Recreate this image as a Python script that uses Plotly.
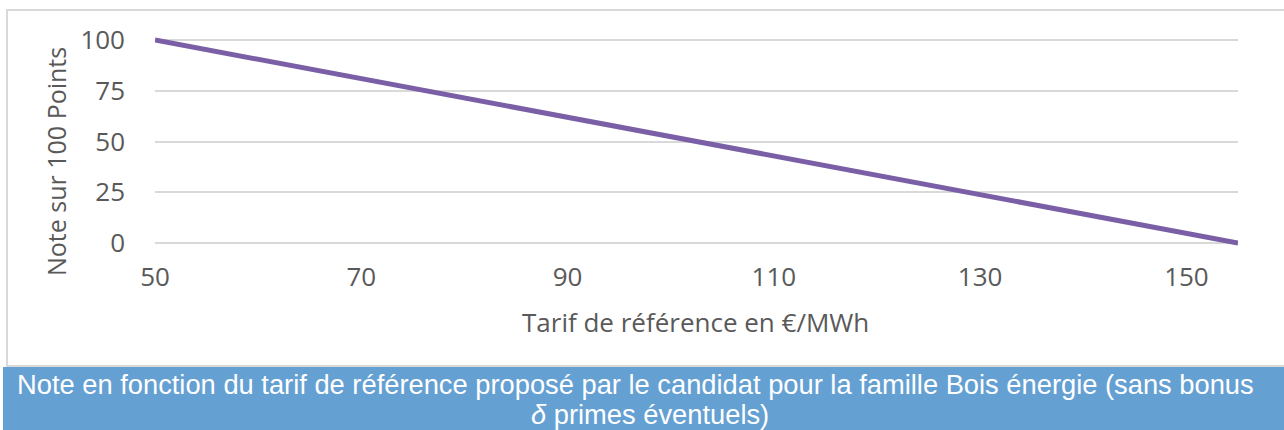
import plotly.graph_objects as go

# Data
tarif = [50, 155]          # Tarif de référence en €/MWh
note = [100, 0]            # Note sur 100 points
x_ticks = [50, 70, 90, 110, 130, 150]
y_ticks = [0, 25, 50, 75, 100]

W, H = 1284, 430
def px(x):
    return x / W
def py(y):
    return 1 - y / H

GRAY = "#595959"
TICKFONT = dict(family="Open Sans", size=26, color=GRAY)

fig = go.Figure()
fig.add_trace(go.Scatter(
    x=tarif, y=note, mode="lines",
    line=dict(color="#7b5fa6", width=5),
    hoverinfo="skip", showlegend=False,
))

fig.update_layout(
    template="none",
    width=W, height=H,
    margin=dict(l=0, r=0, t=0, b=0, autoexpand=False),
    paper_bgcolor="white", plot_bgcolor="white",
    xaxis=dict(
        range=[50, 155], domain=[px(155), px(1238)], automargin=False,
        tickvals=x_ticks, showgrid=False, zeroline=False, showline=False,
        tickfont=TICKFONT, ticks="", ticklabelstandoff=10,
    ),
    yaxis=dict(
        range=[-3, 103], domain=[py(249.09), py(33.91)], automargin=False,
        tickvals=y_ticks, showgrid=True, gridcolor="#d9d9d9", gridwidth=2,
        zeroline=False, showline=False,
        tickfont=TICKFONT, ticks="", ticklabelstandoff=29,
    ),
    shapes=[
        dict(type="rect", xref="paper", yref="paper",
             x0=px(7), x1=1.02, y0=py(366), y1=py(10),
             line=dict(color="#d9d9d9", width=2), fillcolor="rgba(0,0,0,0)",
             layer="below"),
        dict(type="rect", xref="paper", yref="paper",
             x0=px(3), x1=1.02, y0=-0.02, y1=py(367),
             line=dict(width=0), fillcolor="#65a0d3", layer="below"),
    ],
    annotations=[
        dict(text="Note sur 100 Points", xref="paper", yref="paper",
             x=px(56), y=py(162), textangle=-90, showarrow=False,
             xanchor="center", yanchor="middle",
             font=dict(family="Open Sans", size=25, color=GRAY)),
        dict(text="Tarif de référence en €/MWh", xref="paper", yref="paper",
             x=px(696), y=py(322), showarrow=False,
             xanchor="center", yanchor="middle",
             font=dict(family="Open Sans", size=26, color=GRAY)),
        dict(text="Note en fonction du tarif de référence proposé par le candidat pour la famille Bois énergie (sans bonus",
             xref="paper", yref="paper", x=px(15), y=py(384), showarrow=False,
             xanchor="left", yanchor="middle",
             font=dict(family="Liberation Sans", size=27.3, color="white")),
        dict(text="<i>δ</i> primes éventuels)",
             xref="paper", yref="paper", x=px(650), y=py(414), showarrow=False,
             xanchor="center", yanchor="middle",
             font=dict(family="Liberation Sans", size=27.3, color="white")),
    ],
)

fig.write_html(
    "out.html",
    config={"displayModeBar": False},
    post_script="document.body.style.margin='0';document.body.style.overflow='hidden';",
)
